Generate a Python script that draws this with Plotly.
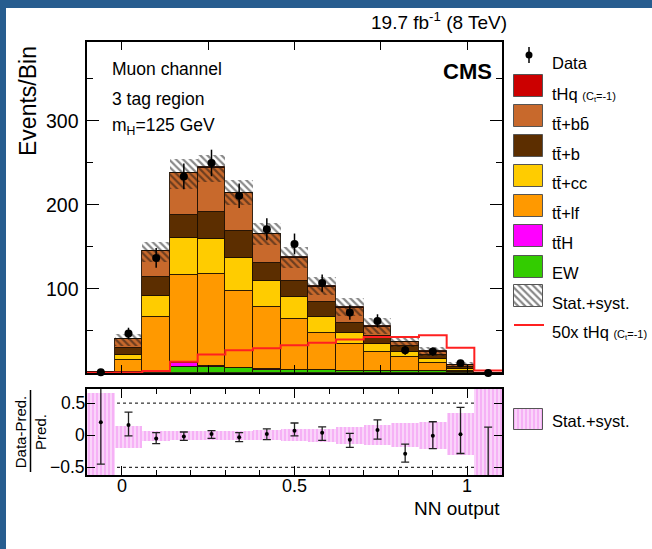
import numpy as np
import plotly.graph_objects as go

# ---------------- data ----------------
bin_edges = [-0.10, -0.02, 0.06, 0.14, 0.22, 0.30, 0.38, 0.46, 0.54, 0.62, 0.70, 0.78, 0.86, 0.94, 1.02, 1.10]

ew    = [0.10, 0.8, 2.4, 7.5, 7.0, 5.5, 4.0, 3.5, 3.0, 2.5, 2.5, 2.0, 2.0, 1.2, 0.1]
tth   = [0.00, 0.1, 0.3, 4.5, 1.2, 0.8, 0.6, 0.5, 0.4, 0.3, 0.3, 0.2, 0.2, 0.1, 0.0]
tt_lf = [0.40, 15.1, 64.3, 105.0, 109.8, 91.7, 73.4, 60.0, 44.6, 31.2, 22.2, 16.8, 10.1, 1.1, 0.1]
tt_cc = [0.05, 6.0, 25.0, 43.5, 41.5, 39.0, 32.0, 26.0, 19.0, 14.0, 9.0, 6.4, 4.0, 2.0, 0.05]
tt_b  = [0.10, 7.5, 21.7, 27.0, 32.0, 32.5, 21.0, 20.0, 17.0, 12.0, 10.0, 6.6, 5.2, 2.6, 0.05]
tt_bb = [0.17, 10.5, 31.85, 50.7, 53.1, 44.5, 33.9, 26.9, 18.8, 17.7, 11.1, 4.6, 3.4, 2.1, 0.04]
thq   = [0.006, 0.01, 0.05, 0.27, 0.44, 0.54, 0.59, 0.66, 0.72, 0.80, 0.86, 0.86, 0.90, 0.60, 0.06]
thq_scale = 50

data     = [1, 47, 137, 234, 250, 211, 171, 153.6, 107, 72, 62, 27, 25.5, 11.5, 0]
data_err = [1.0, 6.9, 11.7, 15.3, 15.8, 14.5, 13.1, 12.4, 10.3, 8.5, 7.9, 5.2, 5.0, 3.4, 0.0]

# relative stat+syst uncertainty of the prediction
band_hi = [0.65, 0.15, 0.07, 0.07, 0.06, 0.07, 0.08, 0.09, 0.10, 0.13, 0.16, 0.19, 0.21, 0.34, 2.0]
band_lo = [0.65, 0.20, 0.09, 0.08, 0.07, 0.07, 0.08, 0.09, 0.10, 0.13, 0.16, 0.18, 0.21, 0.31, 2.0]

ratio        = [0.20, 0.16, -0.05, -0.02, 0.02, -0.03, 0.02, 0.07, 0.04, -0.07, 0.08, -0.29, -0.01, 0.015, -1.0]
ratio_err_hi = [1.50, 0.20, 0.09, 0.07, 0.05, 0.07, 0.08, 0.12, 0.09, 0.10, 0.16, 0.15, 0.22, 0.42, 1.125]
ratio_err_lo = [0.65, 0.17, 0.08, 0.06, 0.07, 0.07, 0.09, 0.08, 0.12, 0.12, 0.14, 0.13, 0.20, 0.30, 0.0]

main_ytick_vals = [100, 200, 300]
main_ytick_text = ["100", "200", "300"]
ratio_ytick_vals = [-0.5, 0, 0.5]
ratio_ytick_text = ["\u22120.5", "0", "0.5"]
ratio_xtick_vals = [0, 0.5, 1]
ratio_xtick_text = ["0", "0.5", "1"]

# ---------------- figure ----------------
W, H = 652, 549
FONT = "Liberation Sans"
HATCH = dict(shape="\\", fgcolor="#111111", size=5, solidity=0.45)
PINK = dict(shape="|", fgcolor="#ef86ef", bgcolor="#fcdcfc", size=4, solidity=0.6)

edges = np.array(bin_edges)
centers = 0.5 * (edges[:-1] + edges[1:])
widths = np.diff(edges)

fig = go.Figure()

components = [
    (ew, "#33cc00"),
    (tth, "#ff00ff"),
    (tt_lf, "#ff9900"),
    (tt_cc, "#ffcc00"),
    (tt_b, "#5c2e00"),
    (tt_bb, "#c8692c"),
    (thq, "#cc0000"),
]
base = np.zeros(len(centers))
for vals, col in components:
    v = np.array(vals, dtype=float)
    fig.add_trace(go.Bar(
        x=centers, y=v, base=base.copy(), width=widths,
        marker=dict(color=col, line=dict(color="rgba(25,12,0,0.85)", width=1)),
        xaxis="x", yaxis="y", showlegend=False, hoverinfo="skip"))
    base += v
total = base

bh = np.array(band_hi)
bl = np.array(band_lo)
fig.add_trace(go.Bar(
    x=centers, y=total * (bh + bl), base=total * (1 - bl), width=widths,
    marker=dict(color="rgba(0,0,0,0)", line=dict(width=0),
                pattern=dict(HATCH, bgcolor="rgba(0,0,0,0)")),
    xaxis="x", yaxis="y", showlegend=False, hoverinfo="skip"))

red_y = np.append(np.array(thq) * thq_scale, thq[-1] * thq_scale)
fig.add_trace(go.Scatter(
    x=edges, y=red_y, mode="lines",
    line=dict(color="#ff2020", width=2, shape="hv"),
    xaxis="x", yaxis="y", showlegend=False, hoverinfo="skip"))

fig.add_trace(go.Scatter(
    x=centers, y=data, mode="markers",
    marker=dict(color="black", size=8),
    error_y=dict(type="data", array=data_err, color="black", thickness=1.5, width=0),
    cliponaxis=False, xaxis="x", yaxis="y", showlegend=False))

# ratio panel
fig.add_trace(go.Bar(
    x=centers, y=bh + bl, base=-bl, width=widths,
    marker=dict(color="#fcdcfc", line=dict(width=0), pattern=PINK),
    xaxis="x2", yaxis="y2", showlegend=False, hoverinfo="skip"))

fig.add_trace(go.Scatter(
    x=centers, y=ratio, mode="markers",
    marker=dict(color="black", size=4),
    error_y=dict(type="data", symmetric=False, array=ratio_err_hi, arrayminus=ratio_err_lo,
                 color="#222222", thickness=1.3, width=4),
    xaxis="x2", yaxis="y2", showlegend=False))

# empty trace so the title-only axis gets drawn
fig.add_trace(go.Scatter(x=[None], y=[None], mode="markers", xaxis="x2", yaxis="y4",
                         showlegend=False, hoverinfo="skip"))

# ---------------- legend (drawn on a pixel-coordinate overlay axis) ----------------
leg_boxes = [
    (85.7, "#cc0000", None),
    (116, "#c8692c", None),
    (146, "#5c2e00", None),
    (175.7, "#ffcc00", None),
    (206, "#ff9900", None),
    (236, "#ff00ff", None),
    (266.7, "#33cc00", None),
    (295.7, "white", "hatch"),
    (419.5, "#fcdcfc", "pink"),
]
for yc, col, pat in leg_boxes:
    m = dict(color=col, line=dict(color="#555555", width=1))
    if pat == "hatch":
        m["pattern"] = dict(HATCH, bgcolor="white")
    elif pat == "pink":
        m["pattern"] = PINK
    fig.add_trace(go.Bar(orientation="h", y=[yc], x=[29], base=[514], width=[21 if pat == "pink" else 22],
                         marker=m, xaxis="x3", yaxis="y3", showlegend=False, hoverinfo="skip"))

fig.add_trace(go.Scatter(x=[529], y=[55], mode="markers", marker=dict(color="black", size=7),
                         error_y=dict(type="data", array=[8], color="black", thickness=1.5, width=0),
                         xaxis="x3", yaxis="y3", showlegend=False, hoverinfo="skip"))
fig.add_trace(go.Scatter(x=[514, 544], y=[325, 325], mode="lines", line=dict(color="#ff2020", width=2),
                         xaxis="x3", yaxis="y3", showlegend=False, hoverinfo="skip"))

small = "<span style='font-size:11px'>(C<sub>t</sub>=-1)</span>"
tt = "tt\u0304"
leg_texts = [
    (63, "Data"),
    (94, "tHq " + small),
    (124, tt + "+bb\u0304"),
    (154, tt + "+b"),
    (183, tt + "+cc"),
    (213, tt + "+lf"),
    (243, tt + "H"),
    (273, "EW"),
    (303, "Stat.+syst."),
    (332, "50x tHq " + small),
    (421, "Stat.+syst."),
]
annotations = []
for yc, txt in leg_texts:
    annotations.append(dict(x=550, y=yc, xref="x3", yref="y3", text=txt, showarrow=False,
                            xanchor="left", yanchor="middle", font=dict(size=16.5, family=FONT, color="black")))


def ann(x, y, text, size, xanchor="left", angle=0, bold=False):
    annotations.append(dict(x=x / W, y=1 - y / H, xref="paper", yref="paper",
                            text=("<b>%s</b>" % text) if bold else text,
                            showarrow=False, xanchor=xanchor, yanchor="middle", textangle=angle,
                            font=dict(size=size, family=FONT, color="black")))


ann(110, 69, "Muon channel", 17.5)
ann(110, 99, "3 tag region", 17.5)
ann(110, 126, "m<sub>H</sub>=125 GeV", 17.5)
ann(494, 71, "CMS", 22, xanchor="right", bold=True)
ann(509, 21, "19.7 fb<sup>-1</sup> (8 TeV)", 19, xanchor="right")
ann(28, 101, "Events/Bin", 23, xanchor="center", angle=-90)
ann(502, 508, "NN output", 19, xanchor="right")

# tick labels placed through the axes' own scales
for v, t in zip(main_ytick_vals, main_ytick_text):
    annotations.append(dict(x=81 / W, y=v, xref="paper", yref="y", text=t, showarrow=False,
                            xanchor="right", yanchor="middle", font=dict(size=19.5, family=FONT, color="black")))
for v, t in zip(ratio_ytick_vals, ratio_ytick_text):
    annotations.append(dict(x=86.5 / W, y=v, xref="paper", yref="y2", text=t, showarrow=False,
                            xanchor="right", yanchor="middle", font=dict(size=17.5, family=FONT, color="black")))
for v, t in zip(ratio_xtick_vals, ratio_xtick_text):
    annotations.append(dict(x=v, y=1 - 486 / H, xref="x2", yref="paper", text=t, showarrow=False,
                            xanchor="center", yanchor="middle", font=dict(size=18, family=FONT, color="black")))

shapes = []
for yv in (-0.5, 0.5):
    shapes.append(dict(type="line", xref="x2", yref="y2", x0=edges[0], x1=edges[-1], y0=yv, y1=yv,
                       line=dict(color="black", width=1, dash="dot"), layer="below"))
shapes += [
    dict(type="line", xref="paper", yref="paper", x0=30.5 / W, x1=30.5 / W, y0=1 - 390 / H, y1=1 - 472 / H,
         line=dict(color="black", width=1.5)),
    dict(type="rect", xref="paper", yref="paper", x0=0, x1=6 / W, y0=0, y1=1,
         fillcolor="#275d8f", line=dict(width=0)),
    dict(type="rect", xref="paper", yref="paper", x0=0, x1=1, y0=1 - 8 / H, y1=1,
         fillcolor="#275d8f", line=dict(width=0)),
]

xdom = [87 / W, 502 / W]
main_dom = [1 - 373 / H, 1 - 42 / H]
ratio_dom = [1 - 475 / H, 1 - 389 / H]
axis_common = dict(showline=True, linecolor="black", linewidth=1.5, mirror="ticks",
                   ticks="inside", tickcolor="black", showgrid=False, zeroline=False,
                   showticklabels=False)

fig.update_layout(
    width=W, height=H, margin=dict(l=0, r=0, t=0, b=0),
    paper_bgcolor="white", plot_bgcolor="rgba(0,0,0,0)",
    barmode="overlay", bargap=0, showlegend=False,
    font=dict(family=FONT, color="black"),
    xaxis=dict(domain=xdom, range=[edges[0], edges[-1]], anchor="y",
               tickvals=[0, 0.25, 0.5, 0.75, 1.0], ticklen=8, **axis_common),
    yaxis=dict(domain=main_dom, range=[0, 394], anchor="x", tickvals=main_ytick_vals, ticklen=12,
               minor=dict(dtick=50, tick0=0, ticklen=6, ticks="inside", tickcolor="black", showgrid=False),
               **axis_common),
    xaxis2=dict(domain=xdom, range=[edges[0], edges[-1]], anchor="y2", tickvals=ratio_xtick_vals, ticklen=9,
                minor=dict(dtick=0.1, tick0=0, ticklen=5, ticks="inside", tickcolor="black", showgrid=False),
                **axis_common),
    yaxis2=dict(domain=ratio_dom, range=[-0.62, 0.72], anchor="x2", tickvals=ratio_ytick_vals, ticklen=8,
                **axis_common),
    # free axis that only carries the rotated ratio title
    yaxis4=dict(overlaying="y2", anchor="free", position=51.5 / W, range=[-0.62, 0.72],
                showline=False, ticks="", showticklabels=False, showgrid=False, zeroline=False,
                title=dict(text="Data-Pred.<br>Pred.", font=dict(size=15, family=FONT, color="black"),
                           standoff=0)),
    xaxis3=dict(domain=[0, 1], range=[0, W], anchor="y3", visible=False, fixedrange=True),
    yaxis3=dict(domain=[0, 1], range=[H, 0], anchor="x3", visible=False, fixedrange=True),
    annotations=annotations,
    shapes=shapes,
)

fig.write_html("out.html")
